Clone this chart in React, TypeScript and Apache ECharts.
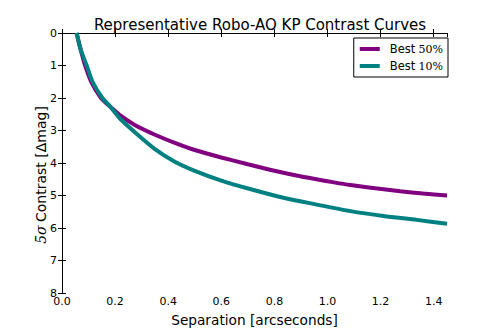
import React, { useEffect, useRef } from "react";
import * as echarts from "echarts";

const sepBest50 = [0.055, 0.07, 0.087, 0.11, 0.147, 0.175, 0.2, 0.218, 0.274, 0.35, 0.425, 0.5, 0.6, 0.7, 0.8, 0.897, 1.0, 1.086, 1.18, 1.274, 1.36, 1.45];
const magBest50 = [0, 0.5, 1.0, 1.5, 2.0, 2.22, 2.4, 2.53, 2.83, 3.13, 3.38, 3.6, 3.83, 4.04, 4.24, 4.41, 4.56, 4.68, 4.78, 4.87, 4.94, 5.0];
const sepBest10 = [0.055, 0.07, 0.093, 0.115, 0.152, 0.18, 0.2, 0.218, 0.274, 0.35, 0.425, 0.5, 0.6, 0.708, 0.834, 0.96, 1.086, 1.211, 1.337, 1.45];
const magBest10 = [0, 0.5, 1.0, 1.5, 2.0, 2.25, 2.45, 2.63, 3.05, 3.57, 3.96, 4.24, 4.54, 4.8, 5.07, 5.28, 5.48, 5.63, 5.75, 5.87];

const xTicks = [0.0, 0.2, 0.4, 0.6, 0.8, 1.0, 1.2, 1.4];
const yTicks = [0, 1, 2, 3, 4, 5, 6, 7, 8];

const FONT = "DejaVu Sans";

export default function App() {
  const ref = useRef<HTMLDivElement>(null);
  useEffect(() => {
    if (!ref.current) return;
    const chart = echarts.init(ref.current, null, { renderer: "svg" });
    const axisCommon = {
      axisLine: { show: true, lineStyle: { color: "#000", width: 1 } },
      axisTick: { show: true, inside: true, length: 4, lineStyle: { color: "#000" } },
      splitLine: { show: false },
    };
    chart.setOption({
      animation: false,
      backgroundColor: "#fff",
      title: {
        text: "Representative Robo-AO KP Contrast Curves",
        left: 255,
        top: 12,
        textAlign: "center",
        textStyle: { fontFamily: FONT, fontSize: 15, fontWeight: "normal", color: "#000" },
      },
      legend: {
        right: 50,
        top: 38,
        orient: "vertical",
        backgroundColor: "#fff",
        borderColor: "#000",
        borderWidth: 1,
        borderRadius: 0,
        padding: [5, 5, 5, 6],
        itemGap: 5,
        itemWidth: 20,
        itemHeight: 4,
        icon: "rect",
        data: ["Best 50%", "Best 10%"],
        formatter: (name: string) => {
          const parts = name.split(" ");
          return "{a|" + parts[0] + "} {b|" + parts[1] + "}";
        },
        textStyle: {
          rich: {
            a: { fontFamily: FONT, fontSize: 11.5, color: "#000", padding: [0, 0, 0, 5] },
            b: { fontFamily: "DejaVu Serif", fontSize: 11, color: "#000" },
          },
        },
      },
      grid: { left: 62, right: 51, top: 33, bottom: 34 },
      xAxis: [
        {
          type: "value",
          min: 0,
          max: 1.45,
          interval: 0.2,
          ...axisCommon,
          axisLabel: {
            fontFamily: FONT,
            fontSize: 11,
            color: "#000",
            margin: 3,
            showMaxLabel: false,
            formatter: (v: number) => {
              const t = xTicks.find((x) => Math.abs(x - v) < 1e-6);
              return t === undefined ? "" : t.toFixed(1);
            },
          },
          name: "Separation [arcseconds]",
          nameLocation: "middle",
          nameGap: 20,
          nameTextStyle: { fontFamily: FONT, fontSize: 13.7, color: "#000" },
        },
        {
          type: "value",
          position: "top",
          min: 0,
          max: 1.45,
          interval: 0.2,
          ...axisCommon,
          axisLabel: { show: false },
        },
      ],
      yAxis: [
        {
          type: "value",
          inverse: true,
          min: 0,
          max: 8,
          interval: 1,
          ...axisCommon,
          axisLabel: {
            fontFamily: FONT,
            fontSize: 11,
            color: "#000",
            margin: 5,
            formatter: (v: number) => {
              const t = yTicks.find((y) => Math.abs(y - v) < 1e-6);
              return t === undefined ? "" : String(t);
            },
          },
        },
        {
          type: "value",
          position: "right",
          inverse: true,
          min: 0,
          max: 8,
          interval: 1,
          ...axisCommon,
          axisLabel: { show: false },
        },
      ],
      graphic: [
        {
          type: "text",
          x: 41,
          y: 175,
          rotation: Math.PI / 2,
          style: {
            text: "{s|5σ} {n|Contrast [Δmag]}",
            align: "center",
            verticalAlign: "middle",
            rich: {
              s: { fontFamily: "DejaVu Serif", fontStyle: "italic", fontSize: 14, fill: "#000" },
              n: { fontFamily: FONT, fontSize: 14, fill: "#000" },
            },
          },
        },
      ],
      series: [
        {
          name: "Best 50%",
          type: "line",
          smooth: 0.25,
          showSymbol: false,
          symbol: "none",
          color: "#800080",
          lineStyle: { color: "#800080", width: 4 },
          data: sepBest50.map((s, i) => [s, magBest50[i]]),
          clip: true,
        },
        {
          name: "Best 10%",
          type: "line",
          smooth: 0.25,
          showSymbol: false,
          symbol: "none",
          color: "#008080",
          lineStyle: { color: "#008080", width: 4 },
          data: sepBest10.map((s, i) => [s, magBest10[i]]),
          clip: true,
        },
      ],
    });
    return () => chart.dispose();
  }, []);
  return <div ref={ref} style={{ width: 498, height: 332, position: "absolute", left: 0, top: 0 }} />;
}
